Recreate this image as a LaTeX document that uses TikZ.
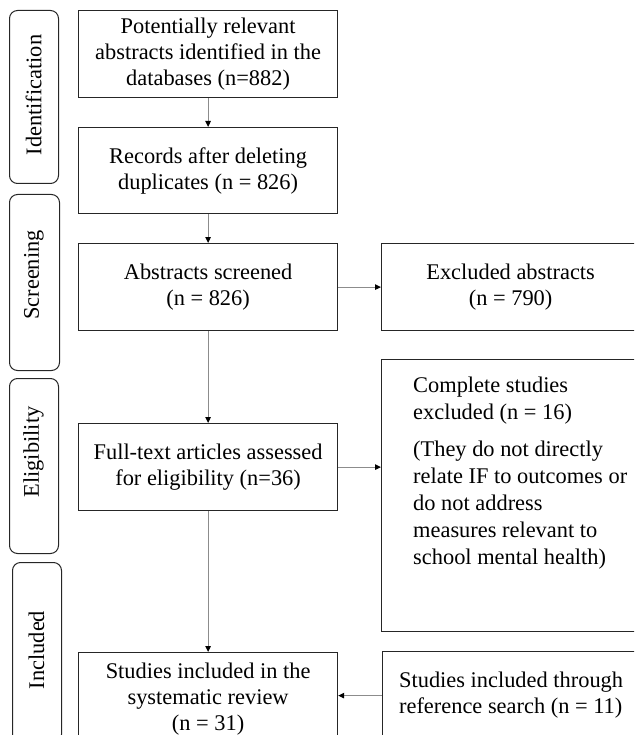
\documentclass[tikz,border=0pt]{standalone}
\usepackage{fontspec}
\setmainfont{Liberation Serif}
\usetikzlibrary{arrows.meta}
\begin{document}
\begin{tikzpicture}[x=1pt,y=-1pt,
  box/.style={draw=black!85, line width=1.2pt, rectangle, anchor=north west, inner sep=0pt, align=center, font=\fontsize{22.4}{26}\selectfont},
  stage/.style={draw=black!85, line width=1pt, rounded corners=8pt, rectangle, anchor=north west, inner sep=0pt},
  stagetext/.style={rotate=90, inner sep=0pt, font=\fontsize{22.4}{26}\selectfont},
  plain/.style={inner sep=0pt, align=left, anchor=north west, font=\fontsize{22.4}{27}\selectfont},
  arr/.style={draw=black!45, line width=0.9pt, -{Triangle[length=6pt,width=5.5pt,color=black]}}]
\path[use as bounding box] (0,0) rectangle (634,735);
\clip (0,0) rectangle (634,735);

% stage labels
\node[stage, minimum width=49pt, minimum height=173pt] (s1) at (9,10) {};
\node[stagetext] (s1t) at (33.5,95) {Identification};
\node[stage, minimum width=50pt, minimum height=176pt] (s2) at (9,194) {};
\node[stagetext] (s2t) at (34,275) {Screening};
\node[stage, minimum width=49pt, minimum height=175pt] (s3) at (9,378) {};
\node[stagetext] (s3t) at (33.5,452) {Eligibility};
\node[stage, minimum width=49pt, minimum height=180pt] (s4) at (12,562) {};
\node[stagetext] (s4t) at (36.5,650) {Included};

% main column
\node[box, minimum width=259pt, minimum height=87pt] (b1) at (78,10) {Potentially relevant\\abstracts identified in the\\databases (n=882)};
\node[box, minimum width=259pt, minimum height=86pt] (b2) at (78,127) {Records after deleting\\duplicates (n = 826)};
\node[box, minimum width=259pt, minimum height=87pt] (b3) at (78,243) {Abstracts screened\\(n = 826)};
\node[box, minimum width=259pt, minimum height=87pt] (b4) at (78,423) {Full-text articles assessed\\for eligibility (n=36)};
\node[box, minimum width=259pt, minimum height=93pt] (b5) at (78,652) {Studies included in the\\systematic review\\(n = 31)};

% right column
\node[box, minimum width=258pt, minimum height=87pt] (ex) at (381,243) {Excluded abstracts\\(n = 790)};
\node[box, minimum width=258pt, minimum height=272pt] (cs) at (381,359) {};
\node[plain] (cst) at (413,377) {Complete studies\\excluded (n = 16)\\[10pt](They do not directly\\relate IF to outcomes or\\do not address\\measures relevant to\\school mental health)};
\node[box, minimum width=257pt, minimum height=88pt, align=left] (rs) at (382,651) {Studies included through\\reference search (n = 11)};

% connectors
\draw[arr] (b1.south) -- (b2.north);
\draw[arr] (b2.south) -- (b3.north);
\draw[arr] (b3.south) -- (b4.north);
\draw[arr] (b4.south) -- (b5.north);
\draw[arr] (b3.east) -- (ex.west);
\draw[arr] (b4.east) -- (b4.east -| cs.west);
\draw[arr] (rs.west) -- (rs.west -| b5.east);
\end{tikzpicture}
\end{document}
